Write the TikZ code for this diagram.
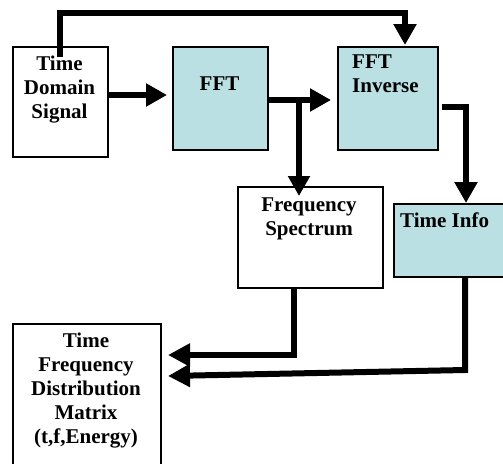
\documentclass[tikz,border=0pt]{standalone}
\usepackage{fontspec}
\setmainfont{Liberation Serif}
\usetikzlibrary{arrows.meta,calc}
\definecolor{boxcyan}{RGB}{187,224,227}
\begin{document}
\begin{tikzpicture}[x=1pt,y=-1pt,
  box/.style={draw=black, line width=1.5pt, inner sep=0pt, anchor=north west},
  cyanbox/.style={box, fill=boxcyan},
  lbl/.style={font=\fontsize{21}{24}\selectfont\bfseries, inner sep=0pt, anchor=base},
  flow/.style={line width=6pt, line join=miter, -{Triangle[length=21pt,width=22pt]}},
  ]
\useasboundingbox (0,0) rectangle (503,463);

% blocks
\node[box, minimum width=95pt, minimum height=110pt] (tds) at (12,46) {};
\node[cyanbox, minimum width=95pt, minimum height=103pt] (fft) at (172,46) {};
\node[cyanbox, minimum width=100pt, minimum height=103pt] (ffti) at (337,46) {};
\node[box, minimum width=145pt, minimum height=101pt] (fs) at (237,186) {};
\node[cyanbox, minimum width=115pt, minimum height=73pt] (ti) at (393,203) {};
\node[box, minimum width=148pt, minimum height=150pt] (tfdm) at (12,323) {};

% labels (base anchor sits on the last line)
\node[lbl, align=center] (tdstxt) at (59.5,118) {Time\\Domain\\Signal};
\node[lbl] (ffttxt) at (219.5,90) {FFT};
\node[lbl, align=left, anchor=base west] (fftitxt) at (352,92) {FFT\\Inverse};
\node[lbl, align=center] (fstxt) at (309,235) {Frequency\\Spectrum};
\node[lbl, anchor=base west] (titxt) at (400,227) {Time Info};
\node[lbl, align=center] (tfdmtxt) at (86,443) {Time\\Frequency\\Distribution\\Matrix\\(t,f,Energy)};

% bend points
\coordinate (tdsup) at (60,57);
\coordinate (topl) at (60,13);
\coordinate (topr) at (405,13);
\coordinate (tdsout) at (tds.east |- 0,95);
\coordinate (fftin) at (167,95);
\coordinate (fftout) at (fft.east |- 0,100);
\coordinate (split) at (299,100);
\coordinate (invin) at (331,100);
\coordinate (invout) at (442,107);
\coordinate (invbend) at (466,107);
\coordinate (fsout) at (294,287);
\coordinate (fsbend) at (294,355);
\coordinate (tiout) at (465,276);
\coordinate (tibend) at (465,370);
\coordinate (intop) at (168,355);
\coordinate (inlow) at (168,376);

% connectors
\draw[flow] (tdsup) -- (topl) -- (topr) -- ($(topr |- ffti.north)+(0,-1)$);
\draw[flow] (tdsout) -- (fftin);
\draw[flow] (fftout) -- (invin);
\draw[flow, -{Triangle[length=20pt,width=21pt]}] (split) -- ($(split |- fs.north)+(0,10)$);
\draw[flow] (invout) -- (invbend) -- (invbend |- ti.north);
\draw[flow, -{Triangle[length=22pt,width=22pt]}] (fsout) -- (fsbend) -- (intop);
\draw[flow, -{Triangle[length=22pt,width=22pt]}] (tiout) -- (tibend) -- (inlow);
\end{tikzpicture}
\end{document}
